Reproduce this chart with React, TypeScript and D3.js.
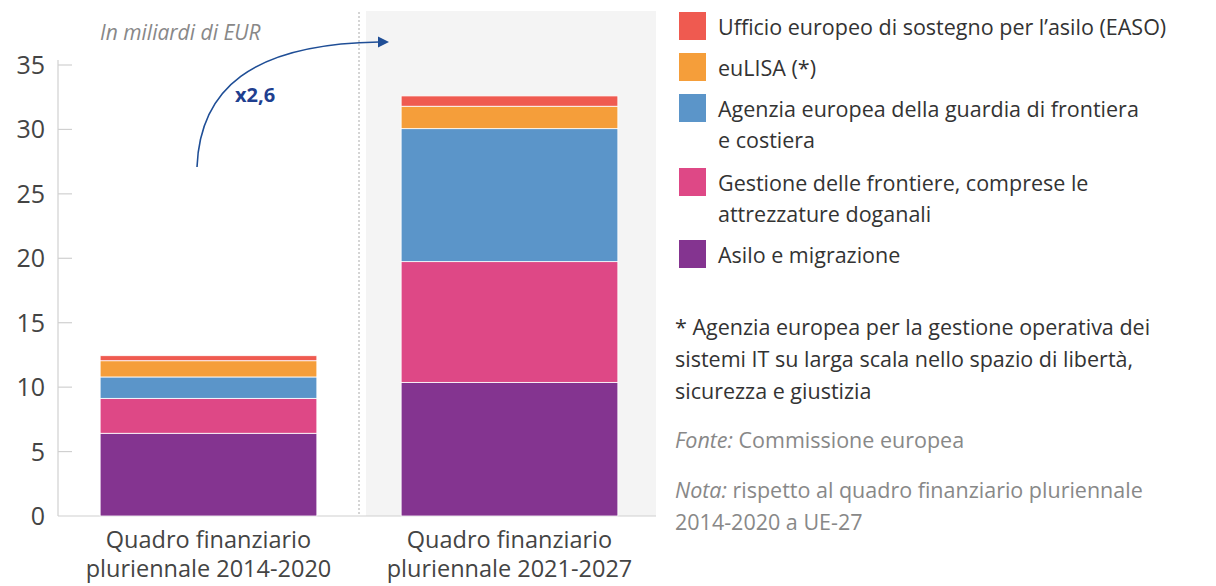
import React from "react";
import { scaleLinear, scaleBand, stack } from "d3";

// values in billions EUR
const periods = ["2014-2020", "2021-2027"];
const xLabels = [
  ["Quadro finanziario", "pluriennale 2014-2020"],
  ["Quadro finanziario", "pluriennale 2021-2027"],
];
const seriesKeys = ["asilo", "frontiere", "guardia", "eulisa", "easo"];
const asilo = [6.42, 10.37];
const frontiere = [2.71, 9.37];
const guardia = [1.66, 10.32];
const eulisa = [1.26, 1.74];
const easo = [0.39, 0.8];
const colors = ["#843490", "#de4886", "#5b95c9", "#f59e3a", "#ef5a50"];
const yTicks = [0, 5, 10, 15, 20, 25, 30, 35];

const legendItems = [
  { key: "easo", lines: ["Ufficio europeo di sostegno per l\u2019asilo (EASO)"] },
  { key: "eulisa", lines: ["euLISA (*)"] },
  { key: "guardia", lines: ["Agenzia europea della guardia di frontiera", "e costiera"] },
  { key: "frontiere", lines: ["Gestione delle frontiere, comprese le", "attrezzature doganali"] },
  { key: "asilo", lines: ["Asilo e migrazione"] },
];
const footnote = [
  "* Agenzia europea per la gestione operativa dei",
  "sistemi IT su larga scala nello spazio di libert\u00e0,",
  "sicurezza e giustizia",
];

const font = "'Open Sans', 'Noto Sans', sans-serif";

export default function App() {
  const width = 1216;
  const height = 586;
  const x0 = 58;
  const y0 = 516;

  const table = periods.map((p, i) => ({
    period: p,
    asilo: asilo[i],
    frontiere: frontiere[i],
    guardia: guardia[i],
    eulisa: eulisa[i],
    easo: easo[i],
  }));
  const layers = stack().keys(seriesKeys)(table as any);

  const y = scaleLinear().domain([0, 35]).range([y0, 65]);
  const x = scaleBand()
    .domain(periods)
    .range([x0, 660])
    .paddingInner(0.28)
    .paddingOuter(0.14);

  const mid = (x(periods[0])! + x.bandwidth() + x(periods[1])!) / 2;
  const panelRight = 656;

  const colorOf = (k) => colors[seriesKeys.indexOf(k)];

  // legend rows: square tops
  const legendRows = [12, 53, 94, 168, 240];
  const lx = 679;

  return (
    <div style={{ position: "absolute", left: 0, top: 0 }}>
      <svg width={width} height={height} viewBox={`0 0 ${width} ${height}`} style={{ display: "block", fontFamily: font }}>
        <rect x={0} y={0} width={width} height={height} fill="#fff" />
        {/* shaded panel for the new period */}
        <rect x={mid + 7} y={11} width={panelRight - mid - 7} height={y0 - 11} fill="#f4f4f4" />
        <line x1={mid} x2={mid} y1={12} y2={y0} stroke="#aaa" strokeWidth={1} strokeDasharray="2,2" />

        {/* axis */}
        <line x1={x0} x2={x0} y1={60} y2={y0} stroke="#d0d0d0" strokeWidth={1.2} />
        <line x1={x0} x2={panelRight} y1={y0} y2={y0} stroke="#d0d0d0" strokeWidth={1.2} />
        {yTicks.map((t) => (
          <g key={t}>
            {t > 0 && <line x1={x0} x2={72} y1={y(t)} y2={y(t)} stroke="#d0d0d0" strokeWidth={1.2} />}
            <text x={45} y={y(t)} dy="0.36em" textAnchor="end" fontSize={25} fill="#444">
              {t}
            </text>
          </g>
        ))}

        {/* stacked bars */}
        {layers.map((layer) => (
          <g key={layer.key} fill={colorOf(layer.key)}>
            {layer.map((d, i) => (
              <rect
                key={i}
                x={x(periods[i])}
                y={y(d[1])}
                width={x.bandwidth()}
                height={y(d[0]) - y(d[1])}
                stroke="#fff"
                strokeWidth={0.8}
              />
            ))}
          </g>
        ))}

        {/* category labels */}
        {periods.map((p, i) => (
          <text key={p} x={x(p)! + x.bandwidth() / 2} textAnchor="middle" fontSize={23.5} fill="#444">
            <tspan x={x(p)! + x.bandwidth() / 2} y={548}>{xLabels[i][0]}</tspan>
            <tspan x={x(p)! + x.bandwidth() / 2} y={577}>{xLabels[i][1]}</tspan>
          </text>
        ))}

        <text x={100} y={40} fontSize={21} fontStyle="italic" fill="#888">
          In miliardi di EUR
        </text>

        {/* growth arrow */}
        <path d="M197,167 C200,90 250,44 379,42" fill="none" stroke="#1f4e96" strokeWidth={1.6} />
        <path d="M378,36.5 L389,42 L378,47.5 Z" fill="#1f4e96" />
        <text x={235} y={102} fontSize={20} fontWeight="bold" fill="#1f3f8f">
          x2,6
        </text>

        {/* legend */}
        {legendItems.map((item, i) => (
          <g key={item.key}>
            <rect x={lx} y={legendRows[i]} width={27} height={28} fill={colorOf(item.key)} />
            {item.lines.map((ln, j) => (
              <text key={j} x={718} y={legendRows[i] + 23 + j * 31} fontSize={21.5} fill="#333">
                {ln}
              </text>
            ))}
          </g>
        ))}

        {footnote.map((ln, j) => (
          <text key={j} x={675} y={335 + j * 32} fontSize={21.5} fill="#333">
            {ln}
          </text>
        ))}
        <text x={675} y={448} fontSize={21.5} fill="#888">
          <tspan fontStyle="italic">Fonte:</tspan> Commissione europea
        </text>
        <text x={675} y={498} fontSize={21.5} fill="#888">
          <tspan fontStyle="italic">Nota:</tspan> rispetto al quadro finanziario pluriennale
        </text>
        <text x={675} y={530} fontSize={21.5} fill="#888">
          2014-2020 a UE-27
        </text>
      </svg>
    </div>
  );
}
